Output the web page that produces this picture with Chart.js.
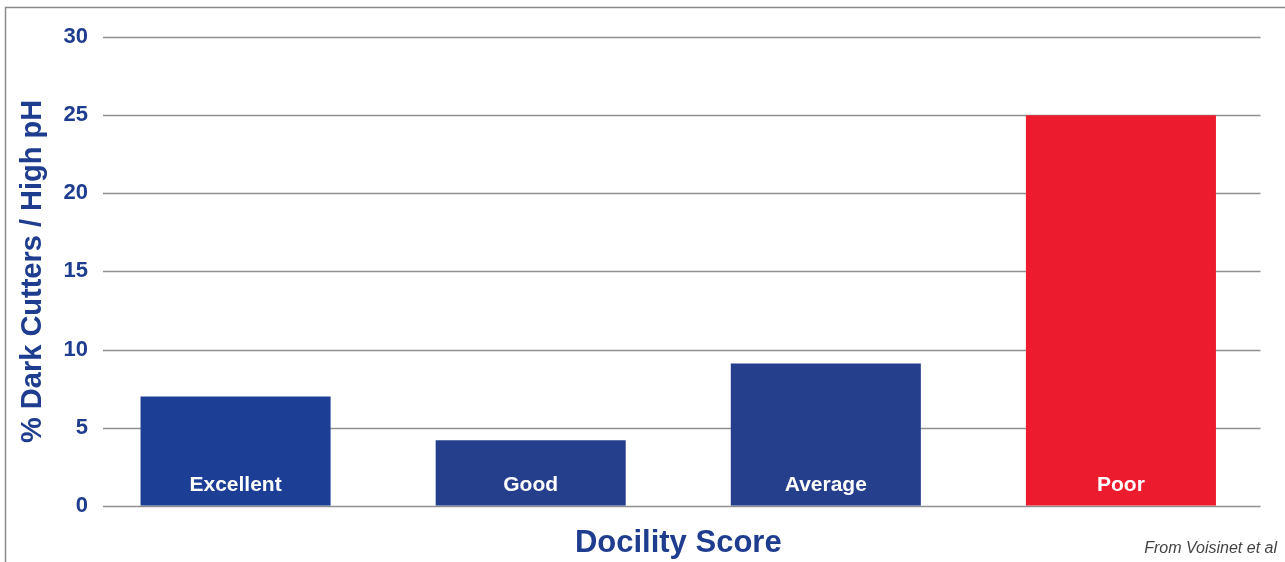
<!DOCTYPE html>
<html>
<head>
<meta charset="utf-8">
<script src="https://cdn.jsdelivr.net/npm/chart.js@4.4.0/dist/chart.umd.min.js"></script>
<style>
  body { margin: 0; background: #fff; }
  #wrap { position: relative; width: 1285px; height: 562px; }
</style>
</head>
<body>
<div id="wrap"><canvas id="chart" width="1285" height="562"></canvas></div>
<script>
// data
const categories = ['Excellent', 'Good', 'Average', 'Poor']
const darkCutters = [7, 4.2, 9.1, 25]
const barColours = ['#1c3f95', '#253f8c', '#253f8c', '#ec1c2e']
const yTicks = [0, 5, 10, 15, 20, 25, 30]

const blue = '#1f3d8f'
const fontName = '"Liberation Sans", Arial, sans-serif'

// frame, grid lines and the labels inside the bars
const extras = {
  id: 'extras',
  beforeDatasetsDraw(chart) {
    const ctx = chart.ctx
    const area = chart.chartArea
    const y = chart.scales.y
    ctx.save()
    // frame on the left and top
    ctx.strokeStyle = '#8a8a8a'
    ctx.lineWidth = 1.5
    ctx.beginPath()
    ctx.moveTo(5.5, 562)
    ctx.lineTo(5.5, 7.5)
    ctx.lineTo(1285, 7.5)
    ctx.stroke()
    // grid
    ctx.strokeStyle = '#909090'
    ctx.lineWidth = 1.3
    yTicks.forEach(t => {
      const py = Math.round(y.getPixelForValue(t)) + 0.5
      ctx.beginPath()
      ctx.moveTo(area.left + 15, py)
      ctx.lineTo(area.right - 8, py)
      ctx.stroke()
    })
    ctx.restore()
  },
  afterDatasetsDraw(chart) {
    const ctx = chart.ctx
    const meta = chart.getDatasetMeta(0)
    ctx.save()
    ctx.fillStyle = '#ffffff'
    ctx.font = 'bold 21px ' + fontName
    ctx.textAlign = 'center'
    ctx.textBaseline = 'middle'
    meta.data.forEach((bar, i) => {
      ctx.fillText(categories[i], bar.x, chart.scales.y.getPixelForValue(0) - 21)
    })
    // source note
    ctx.fillStyle = '#444'
    ctx.font = 'italic 16px ' + fontName
    ctx.textAlign = 'right'
    ctx.fillText('From Voisinet et al', 1277, 549)
    ctx.restore()
  }
}

new Chart(document.getElementById('chart'), {
  type: 'bar',
  data: {
    labels: categories,
    datasets: [{
      data: darkCutters,
      backgroundColor: barColours,
      barPercentage: 0.644,
      categoryPercentage: 1
    }]
  },
  options: {
    responsive: false,
    animation: false,
    layout: { padding: { top: 37, right: 16.5, left: 10, bottom: 0 } },
    plugins: { legend: { display: false }, tooltip: { enabled: false } },
    scales: {
      x: {
        grid: { display: false },
        border: { display: false },
        ticks: { display: false },
        title: {
          display: true,
          text: 'Docility Score',
          color: blue,
          font: { family: fontName, size: 31, weight: 'bold' },
          padding: { top: 11, bottom: 0 }
        }
      },
      y: {
        min: 0,
        max: 30,
        afterFit(scale) { scale.width = 78 },
        grid: { display: false, drawTicks: false, tickLength: 0 },
        border: { display: false },
        ticks: {
          stepSize: 5,
          padding: 0,
          color: blue,
          font: { family: fontName, size: 22, weight: 'bold' }
        },
        title: {
          display: true,
          text: '% Dark Cutters / High pH',
          color: blue,
          font: { family: fontName, size: 29, weight: 'bold' },
          padding: { top: 6, bottom: 0 }
        }
      }
    }
  },
  plugins: [extras]
})
</script>
</body>
</html>
